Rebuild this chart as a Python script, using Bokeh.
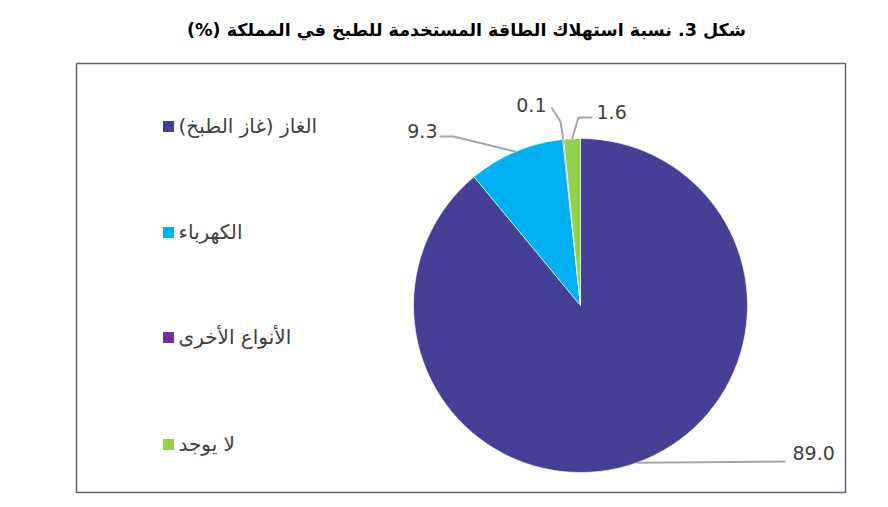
import math
from bokeh.plotting import figure
from bokeh.models import Range1d
from bokeh.core.properties import value
from bokeh.embed import file_html
from bokeh.resources import INLINE

# ---- data ----
title = "شكل 3. نسبة استهلاك الطاقة المستخدمة للطبخ في المملكة (%)"
categories = ["الغاز (غاز الطبخ)", "الكهرباء", "الأنواع الأخرى", "لا يوجد"]
values = [89.0, 9.3, 0.1, 1.6]
value_labels = ["89.0", "9.3", "0.1", "1.6"]
colors = ["#453F95", "#00B0F0", "#7030A0", "#92D050"]

RLE, PDF = "\u202B", "\u202C"

W, H = 888, 507
def Y(y):
    return H - y

p = figure(width=W, height=H, output_backend="svg", toolbar_location=None,
           x_range=Range1d(0, W), y_range=Range1d(0, H), min_border=0)
p.axis.visible = False
p.grid.visible = False
p.outline_line_color = None
p.background_fill_color = "white"
p.border_fill_color = "white"

# frame
p.line([76, 845, 845, 76, 76], [Y(63), Y(63), Y(492), Y(492), Y(63)],
       line_color="#5E6570", line_width=1.5)

# title
p.text([466], [Y(29)], text=[RLE + title + PDF], text_font=value("DejaVu Sans"),
       text_font_style="bold", text_font_size="17.5px", text_align="center",
       text_baseline="middle", text_color="#000000")

# pie
cx, cy, r = 580, 305, 167
total = sum(values)
cum = 0.0
starts, ends, mids = [], [], []
for v in values:
    a0 = math.pi / 2 - 2 * math.pi * cum / total
    a1 = math.pi / 2 - 2 * math.pi * (cum + v) / total
    starts.append(a0); ends.append(a1)
    mids.append((a0 + a1) / 2)
    cum += v
p.wedge(x=[cx] * len(values), y=[Y(cy)] * len(values), radius=r,
        start_angle=starts, end_angle=ends, direction="clock",
        fill_color=colors, line_color="white", line_width=0.6)

# leader lines & labels (anchored on slice mid-angles)
anchors = [(cx + r * math.cos(m), Y(cy) + r * math.sin(m)) for m in mids]
elbows = [
    [(785, Y(461))],
    [(453, Y(136)), (439, Y(136))],
    [(560, Y(121)), (551, Y(107))],
    [(578, Y(117)), (592, Y(117))],
]
lab_pos = [(792, Y(452), "left"), (437, Y(130), "right"),
           (546, Y(104), "right"), (596, Y(111), "left")]
for (ax, ay), el, (lx, ly, al), t in zip(anchors, elbows, lab_pos, value_labels):
    xs = [ax] + [e[0] for e in el]
    ys = [ay] + [e[1] for e in el]
    p.line(xs, ys, line_color="#A6A6A6", line_width=2)
    p.text([lx], [ly], text=[t], text_font=value("DejaVu Sans"),
           text_font_size="19px", text_align=al, text_baseline="middle",
           text_color="#404040")

# legend
leg_y = [126, 232, 337, 444]
p.rect(x=[168] * 4, y=[Y(v) for v in leg_y], width=11, height=11,
       fill_color=colors, line_color=None)
p.text(x=[178] * 4, y=[Y(v - 1) for v in leg_y],
       text=[RLE + c + PDF for c in categories],
       text_font=value("DejaVu Sans"), text_font_size="20px",
       text_align="left", text_baseline="middle", text_color="#404040")

open("out.html", "w").write(file_html(p, INLINE))
